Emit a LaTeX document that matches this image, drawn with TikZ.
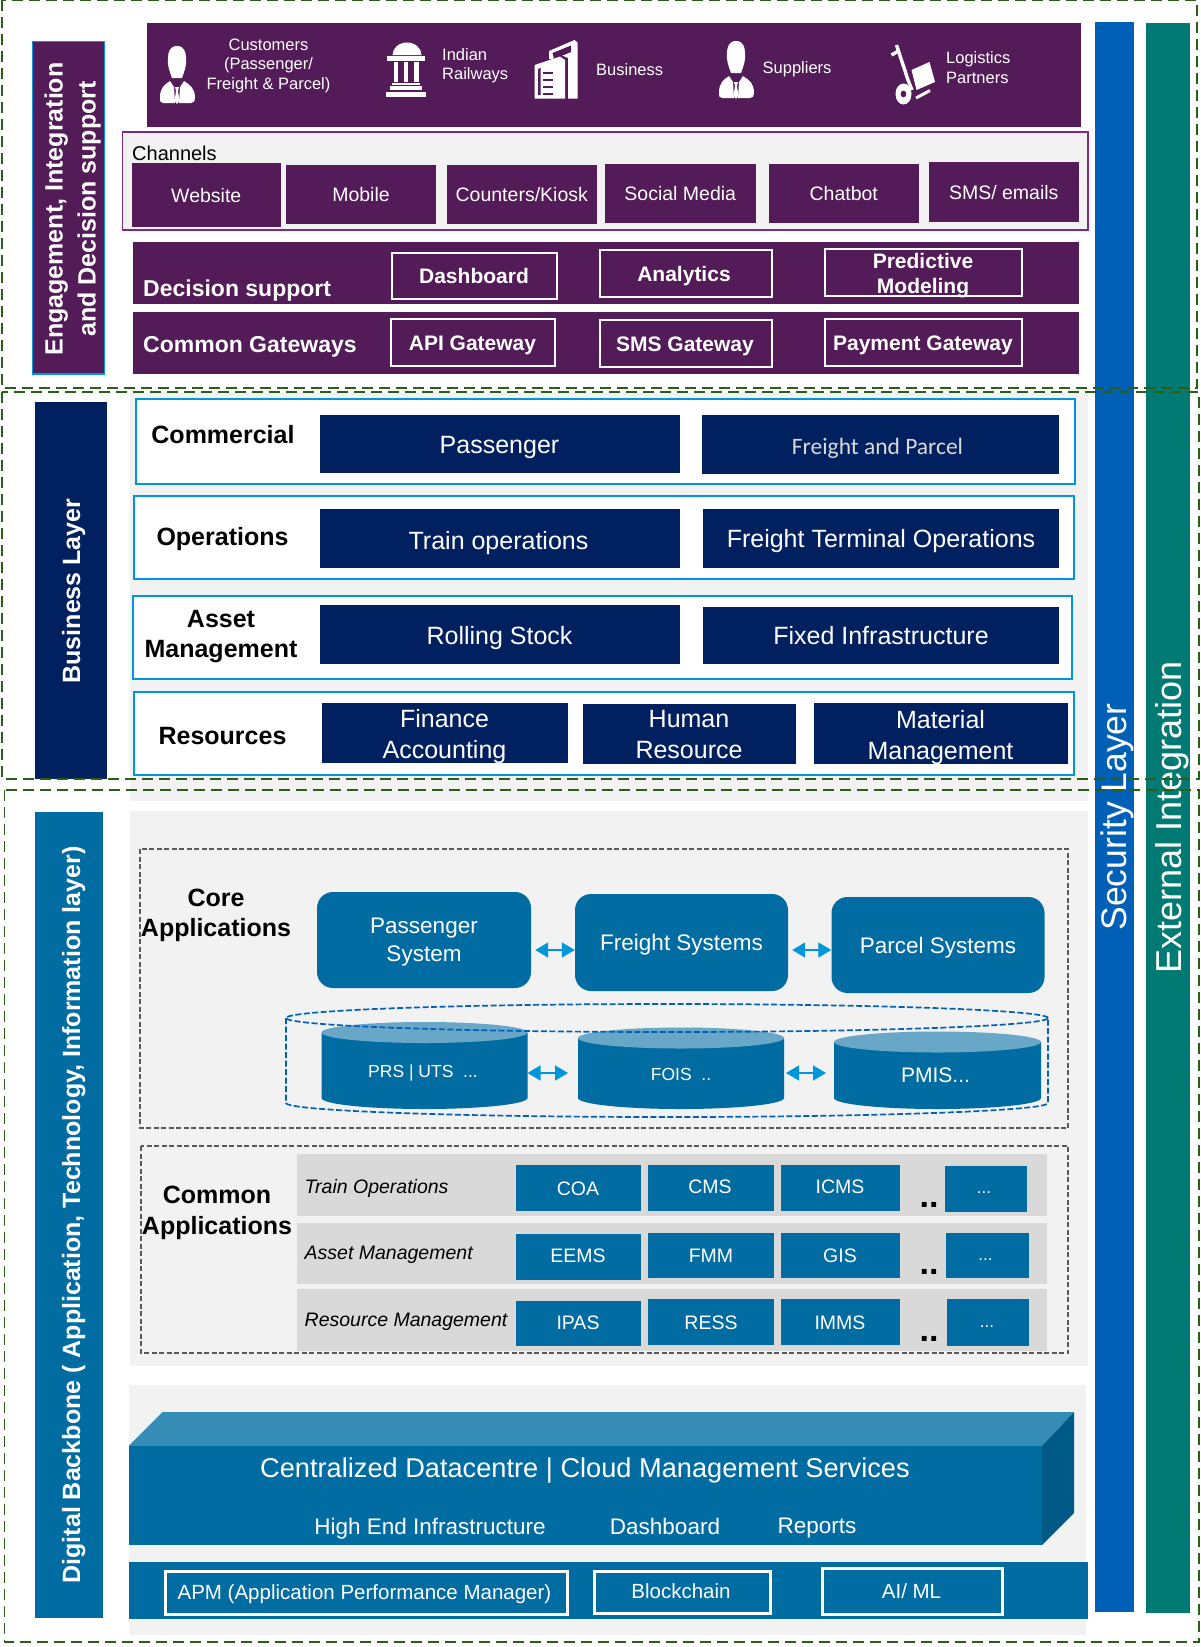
\documentclass[tikz,border=0pt]{standalone}
\usepackage{fontspec}
\setmainfont{Liberation Sans}
\newfontfamily\carlito{Carlito}
\usetikzlibrary{arrows.meta}

\definecolor{engpurple}{HTML}{531B57}
\definecolor{chanedge}{HTML}{7B2A85}
\definecolor{navy}{HTML}{002060}
\definecolor{appblue}{HTML}{016CA2}
\definecolor{edgeblue}{HTML}{0096DC}
\definecolor{secblue}{HTML}{0060B7}
\definecolor{extgreen}{HTML}{007A72}
\definecolor{panelgray}{HTML}{F2F2F2}
\definecolor{rowgray}{HTML}{D9D9D9}
\definecolor{layerdash}{HTML}{2A5F1A}
\definecolor{appdash}{HTML}{595959}
\definecolor{dctop}{HTML}{358CB5}
\definecolor{dcside}{HTML}{005A88}
\definecolor{dblid}{HTML}{68A7C8}

\newcommand{\moredots}{...}

\tikzset{
  whitetxt/.style={text=white, inner sep=0pt, align=center, text depth=0pt},
  blacktxt/.style={text=black, inner sep=0pt, align=center, text depth=0pt},
  layerdashed/.style={draw=layerdash, line width=1.9pt, dash pattern=on 11pt off 6pt},
  appdashed/.style={draw=appdash, line width=1.5pt, dash pattern=on 5pt off 2.5pt},
  dbdashed/.style={draw=secblue, line width=1.7pt, dash pattern=on 6pt off 2.5pt},
  dblarrow/.style={{Triangle[length=13pt,width=15pt]}-{Triangle[length=13pt,width=15pt]}, draw=edgeblue, line width=1.3pt},
  roundbox/.style={fill=appblue, rounded corners=16pt, text=white, inner sep=0pt, align=center, text depth=0pt, font=\fontsize{22.5}{28}\selectfont},
  personicon/.pic={
    \fill[white] (17,0) .. controls (24,0) and (26,6) .. (26,12) .. controls (27,20) and (24,26) .. (22,32)
      -- (12,32) .. controls (10,26) and (7,20) .. (8,12) .. controls (8,6) and (10,0) .. (17,0);
    \fill[white] (10,35) -- (14,41) -- (15,57) -- (3,57) .. controls (0,57) and (0,55) .. (0,52)
      .. controls (0,42) and (4,39) .. (10,35);
    \fill[white] (24,35) -- (20,41) -- (19,57) -- (31,57) .. controls (34,57) and (35,55) .. (35,52)
      .. controls (35,42) and (30,39) .. (24,35);
    \fill[white] (15,41) -- (19,41) -- (18,45) -- (19.5,55) -- (17,58) -- (14.5,55) -- (16,45) -- cycle;
  }
}

\begin{document}
\begin{tikzpicture}[x=1pt, y=-1pt]
  \useasboundingbox (0,0) rectangle (1201,1647);

  %gray panels
  \fill[panelgray] (130,393) rectangle (1088,801);
  \fill[panelgray] (130,811) rectangle (1088,1366);
  \fill[panelgray] (129,1385) rectangle (1086,1635);

  %side bars
  \fill[engpurple] (32.5,41.5) rectangle (104.5,374);
  \draw[edgeblue, line width=1.6pt] (32.5,41.5) rectangle (104.5,374);
  \node[whitetxt, rotate=90, font=\bfseries\fontsize{25}{33}\selectfont] (englabel) at (70,209) {Engagement, Integration\\and Decision support};
  \fill[navy] (35,402) rectangle (106.5,779);
  \node[whitetxt, rotate=90, font=\bfseries\fontsize{25}{28}\selectfont] (bizlabel) at (71,591) {Business Layer};
  \fill[appblue] (34.5,812) rectangle (102.5,1618);
  \node[whitetxt, rotate=90, font=\bfseries\fontsize{25}{30}\selectfont] (digilabel) at (71,1215) {Digital Backbone ( Application, Technology, Information layer)};
  \fill[secblue] (1094.5,22) rectangle (1133.5,1612);
  \node[whitetxt, rotate=90, font=\fontsize{35.5}{40}\selectfont] (seclabel) at (1114,817) {Security Layer};
  \fill[extgreen] (1146,23) rectangle (1189.5,1613);
  \node[whitetxt, rotate=90, font=\fontsize{36}{44}\selectfont] (extlabel) at (1168,817) {External Integration};

  %engagement
  \fill[engpurple] (147,23) rectangle (1081,127);
  \pic at (160,46) {personicon};
  \pic at (719,41) {personicon};
  \node[whitetxt, font=\fontsize{16.5}{19.3}\selectfont] (tcust) at (268.5,64) {Customers\\(Passenger/\\Freight \& Parcel)};
  \foreach \tx/\ty/\txt/\name in {442/64/{Indian\\Railways}/trail, 596/69.5/Business/tbiz, 762.5/67.5/Suppliers/tsup, 946/67.5/{Logistics\\Partners}/tlog}{
    \node[text=white, inner sep=0pt, align=left, text depth=0pt, anchor=west, font=\fontsize{16.5}{19.3}\selectfont] (\name) at (\tx,\ty) {\txt};
  }

  %column icon
  \fill[white] (392.5,55) arc[start angle=180, end angle=0, x radius=14.5pt, y radius=12.5pt] -- cycle;
  \fill[white] (387,56) rectangle (424.5,60.5);
  \foreach \cx in {393.5,403.5,414}{
    \fill[white] (\cx,61.5) rectangle (\cx+4.5,82);
  }
  \fill[white] (391.5,83) rectangle (420,85);
  \fill[white] (390,86) rectangle (422,90);
  \fill[white] (386,91.5) rectangle (425.5,96.5);

  %building icon
  \fill[white] (549,51) -- (574.5,40) -- (577.5,42.5) -- (577.5,98.5) -- (568,98.5) -- (568,58) -- (561,55) -- (552,59) -- (549,59) -- cycle;
  \fill[engpurple] (552.5,53) -- (571,45.5) -- (571,52) -- (554,59) -- cycle;
  \fill[white] (534.5,65) -- (560,56.5) -- (565,60) -- (565,98.5) -- (534.5,98.5) -- cycle;
  \fill[engpurple] (538,69) -- (540.5,68) -- (540.5,95) -- (538,95) -- cycle;
  \foreach \wy in {72,79,86}{
    \fill[engpurple] (542.5,\wy) rectangle (553,\wy+2);
  }
  \fill[engpurple] (542.5,93) rectangle (553,95);

  %trolley icon
  \draw[white, line width=3.4pt] (896.5,45) -- (908,80) -- (912,90);
  \draw[white, line width=3.4pt] (891.5,55) -- (898.5,51);
  \fill[white] (911.5,70) -- (929.5,62) -- (935,82) -- (916.5,90) -- cycle;
  \fill[white, even odd rule] (903.5,94) ellipse[x radius=8pt, y radius=10.5pt] (903.5,94) ellipse[x radius=3pt, y radius=3.5pt];
  \draw[white, line width=3pt] (916,98) -- (930,90.5);

  %channels
  \fill[panelgray] (122.5,132) rectangle (1088,230);
  \draw[chanedge, line width=1.6pt] (122.5,132) rectangle (1088,230);
  \node[blacktxt, anchor=west, font=\fontsize{20}{24}\selectfont] (chanlabel) at (132,153) {Channels};
  \foreach \xl/\yt/\xr/\yb/\txt/\name in {132/163/280.5/227/Website/web, 286/165/436/224/Mobile/mob, 446.5/165/597/224/{Counters/Kiosk}/kiosk, 605/164/755.5/223/Social Media/social, 769/164/918.5/223/Chatbot/chat, 928.5/162/1079/222/{SMS/ emails}/sms}{
    \fill[engpurple] (\xl,\yt) rectangle (\xr,\yb);
    \node[whitetxt, font=\fontsize{19.5}{24}\selectfont] (\name) at ({(\xl+\xr)/2},{(\yt+\yb)/2}) {\txt};
  }

  %decision support and gateways
  \fill[engpurple] (133,242) rectangle (1079,304);
  \fill[engpurple] (133,312) rectangle (1079,374);
  \node[whitetxt, anchor=west, font=\bfseries\fontsize{23}{28}\selectfont] (decision) at (143,288) {Decision support};
  \node[whitetxt, anchor=west, font=\bfseries\fontsize{23}{28}\selectfont] (gateways) at (143,344) {Common Gateways};
  \foreach \xl/\yt/\xr/\yb/\tx/\ty/\txt/\name in {392/253/557/299/474/276/Dashboard/dash, 600/250/771.5/297/684/274/Analytics/ana, 825/249/1021.5/296/923/273.5/{Predictive\\Modeling}/pred, 391/319/554.5/366/472.5/343/API Gateway/api, 600/320/771.5/367/685/344/SMS Gateway/smsg, 825/319/1021.5/366/923/343/Payment Gateway/pay}{
    \draw[white, line width=2pt] (\xl,\yt) rectangle (\xr,\yb);
    \node[whitetxt, font=\bfseries\fontsize{21}{25}\selectfont] (\name) at (\tx,\ty) {\txt};
  }

  %business rows
  \foreach \xl/\yt/\xr/\yb in {136/399/1075/484, 134/496/1074/579, 132.5/596/1071.5/679, 134/692/1074/775}{
    \fill[white] (\xl,\yt) rectangle (\xr,\yb);
    \draw[edgeblue, line width=2pt] (\xl,\yt) rectangle (\xr,\yb);
  }
  \foreach \tx/\ty/\txt/\name in {223/434/Commercial/comm, 222.5/536/Operations/oper, 221/634/{Asset\\Management}/asset, 222.5/736/Resources/res}{
    \node[blacktxt, font=\bfseries\fontsize{25}{30.5}\selectfont] (\name) at (\tx,\ty) {\txt};
  }
  \foreach \xl/\yt/\xr/\yb/\tx/\ty/\txt/\name in {319.5/415/680/473/499.5/445/Passenger/pass, 319.5/509/680/568/498.5/540/Train operations/train, 703/509/1059/568/881/538/Freight Terminal Operations/term, 319.5/605/680/664/499.5/635/Rolling Stock/roll, 703/607/1059/664/881/635/Fixed Infrastructure/fixed, 321.5/703/568/763/444.5/733.5/{Finance\\Accounting}/fin, 582.5/704/796/764/689/734.5/{Human\\Resource}/hum, 813.5/703/1068/764/940.5/734.5/{Material\\Management}/mat}{
    \fill[navy] (\xl,\yt) rectangle (\xr,\yb);
    \node[whitetxt, font=\fontsize{25}{31}\selectfont] (\name) at (\tx,\ty) {\txt};
  }
  \fill[navy] (702,415) rectangle (1059,474);
  \node[text=black!15, inner sep=0pt, text depth=0pt, font=\carlito\fontsize{23.5}{28}\selectfont] (fpar) at (877.5,446) {Freight and Parcel};

  %core applications
  \draw[appdashed] (140,849) rectangle (1068,1128);
  \node[blacktxt, font=\bfseries\fontsize{25}{30}\selectfont] (corelabel) at (216,913) {Core\\Applications};
  \node[roundbox, minimum width=214pt, minimum height=96pt] (psys) at (424,940) {Passenger\\System};
  \node[roundbox, minimum width=213pt, minimum height=97pt] (fsys) at (681.5,942.5) {Freight Systems};
  \node[roundbox, minimum width=213pt, minimum height=96pt] (parsys) at (938,945) {Parcel Systems};
  \draw[dblarrow, shorten <=4pt] ([yshift=-10pt]psys.east) -- ([yshift=-7.5pt]fsys.west);
  \draw[dblarrow, shorten <=4pt] ([yshift=-7.5pt]fsys.east) -- ([yshift=-5pt]parsys.west);

  \foreach \xl/\xr/\yc/\tx/\ty/\fs/\txt/\name in {321.5/527.5/1032.5/423/1071/17.5/{PRS | UTS\ \ \moredots}/prs, 578/784/1038/681/1074/17.5/{FOIS\ \ ..}/fois, 834/1041/1042/935.5/1075/21/{PMIS\moredots}/pmis}{
    \pgfmathsetmacro{\rx}{(\xr-\xl)/2}
    \fill[appblue] (\xl,\yc) -- (\xl,1098) arc[start angle=180, end angle=360, x radius=\rx pt, y radius=11pt] -- (\xr,\yc) -- cycle;
    \fill[dblid] ({(\xl+\xr)/2},\yc) ellipse[x radius=\rx pt, y radius=10.5pt];
    \node[whitetxt, font=\fontsize{\fs}{20}\selectfont] (\name) at (\tx,\ty) {\txt};
    \coordinate (\name W) at (\xl,1073);
    \coordinate (\name E) at (\xr,1073);
  }
  \draw[dblarrow, shorten >=10pt] (prsE) -- (foisW);
  \draw[dblarrow, shorten <=2pt, shorten >=8pt] (foisE) -- (pmisW);
  \draw[dbdashed] (286,1018) -- (286,1103) arc[start angle=180, end angle=360, x radius=381pt, y radius=14pt] -- (1048,1018);
  \draw[dbdashed] (667,1018) ellipse[x radius=381pt, y radius=14pt];

  %common applications
  \draw[appdashed] (141,1146) rectangle (1068,1353);
  \node[blacktxt, font=\bfseries\fontsize{25}{31}\selectfont] (commonlabel) at (217,1210.5) {Common\\Applications};
  \foreach \yt/\yb/\ly/\txt/\name/\dy in {1154/1216/1186/Train Operations/rowtrain/1205, 1223/1284/1253/Asset Management/rowasset/1272, 1289/1351/1320/Resource Management/rowres/1339}{
    \fill[rowgray] (297,\yt) rectangle (1047,\yb);
    \node[blacktxt, anchor=west, font=\itshape\fontsize{19.5}{24}\selectfont] (\name) at (304.5,\ly) {\txt};
    \node[blacktxt, font=\bfseries\fontsize{34}{34}\selectfont] (\name dots) at (929,\dy) {..};
  }
  \foreach \xl/\yt/\xr/\yb/\tx/\ty/\txt/\name in {515.5/1165/641/1211/578/1189/COA/coa, 648/1165/774/1211/710/1187/CMS/cms, 780.5/1165/900/1211/840/1187/ICMS/icms, 515.5/1234/641/1280/578/1256/EEMS/eems, 648/1233/774/1278/711/1256/FMM/fmm, 780.5/1233/900/1278/840/1256/GIS/gis, 515.5/1301/641/1346/578/1323/IPAS/ipas, 648/1299/774/1345/711/1323/RESS/ress, 780.5/1299/900/1345/840/1323/IMMS/imms}{
    \fill[appblue] (\xl,\yt) rectangle (\xr,\yb);
    \node[whitetxt, font=\fontsize{19.5}{24}\selectfont] (\name) at (\tx,\ty) {\txt};
  }
  \foreach \xl/\yt/\xr/\yb/\tx/\ty/\name in {945/1166/1027/1212/984/1193/moreA, 946/1233/1028.5/1278/985.5/1260/moreB, 947/1299/1029/1346/987/1327/moreC}{
    \fill[appblue] (\xl,\yt) rectangle (\xr,\yb);
    \node[whitetxt, font=\fontsize{17}{20}\selectfont] (\name) at (\tx,\ty) {\moredots};
  }

  %datacentre
  \fill[dctop] (128.5,1446) -- (162.5,1412) -- (1074,1412) -- (1042,1446) -- cycle;
  \fill[dcside] (1042,1446) -- (1074,1412) -- (1074,1513) -- (1042,1545) -- cycle;
  \fill[appblue] (128.5,1446) rectangle (1042,1545);
  \node[whitetxt, font=\fontsize{27.2}{32}\selectfont] (dctitle) at (585,1468) {Centralized Datacentre | Cloud Management Services};
  \foreach \tx/\txt/\name in {430/High End Infrastructure/dcinfra, 665/Dashboard/dcdash, 817/Reports/dcrep}{
    \node[whitetxt, font=\fontsize{22.5}{26}\selectfont] (\name) at (\tx,1526) {\txt};
  }
  \fill[appblue] (129,1562) rectangle (1088,1619);
  \foreach \xl/\yt/\xr/\yb/\tx/\ty/\txt/\name in {165/1571/567.5/1614/364.5/1592/APM (Application Performance Manager)/apm, 594.5/1571/770/1613/681/1591/Blockchain/block, 822.5/1568/1002/1614/911.5/1591/{AI/ ML}/aiml}{
    \draw[white, line width=3pt] (\xl,\yt) rectangle (\xr,\yb);
    \node[whitetxt, font=\fontsize{20.5}{24}\selectfont] (\name) at (\tx,\ty) {\txt};
  }

  %layer frames
  \draw[layerdashed] (2,0) rectangle (1197,388);
  \draw[layerdashed] (2,392) rectangle (1199,779);
  \draw[layerdashed] (4.5,790) rectangle (1199,1642);

\end{tikzpicture}
\end{document}
